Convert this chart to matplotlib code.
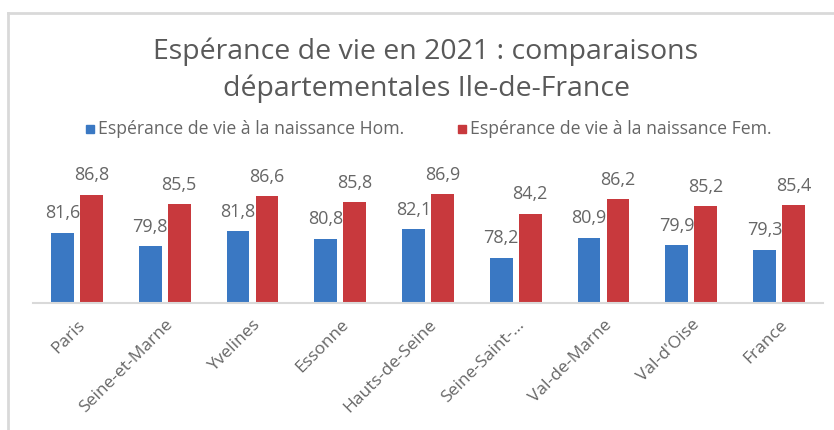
import matplotlib
matplotlib.use("Agg")
import matplotlib.pyplot as plt
import numpy as np
from matplotlib.lines import Line2D

categories = ["Paris", "Seine-et-Marne", "Yvelines", "Essonne", "Hauts-de-Seine",
              "Seine-Saint-…", "Val-de-Marne", "Val-d'Oise", "France"]
hommes = [81.6, 79.8, 81.8, 80.8, 82.1, 78.2, 80.9, 79.9, 79.3]
femmes = [86.8, 85.5, 86.6, 85.8, 86.9, 84.2, 86.2, 85.2, 85.4]
series_names = ["Espérance de vie à la naissance Hom.", "Espérance de vie à la naissance Fem."]
title = "Espérance de vie en 2021 : comparaisons\ndépartementales Ile-de-France"

plt.rcParams['font.family'] = ['Open Sans', 'DejaVu Sans']
W, H = 834, 430
fig = plt.figure(figsize=(W / 100, H / 100), dpi=100)
fig.patch.set_facecolor("white")

# outer chart frame (top and left edges visible)
fig.add_artist(Line2D([8 / W, 1], [1 - 13 / H, 1 - 13 / H], color="#d9d9d9", lw=2, transform=fig.transFigure))
fig.add_artist(Line2D([8 / W, 8 / W], [0, 1 - 13 / H], color="#d9d9d9", lw=2, transform=fig.transFigure))

ax = fig.add_axes([33 / W, 127 / H, 790 / W, 117 / H])
x = np.arange(len(categories))
bw = 0.26
off = 0.165
blue = "#3a78c3"
red = "#c8393d"
ax.bar(x - off, hommes, bw, color=blue, zorder=2)
ax.bar(x + off, femmes, bw, color=red, zorder=2)
ax.set_ylim(72, 88)
ax.set_xlim(-0.5, len(categories) - 0.5)

txtc = "#666666"
for xi, v in zip(x, hommes):
    ax.annotate(f"{v:.1f}".replace(".", ","), (xi - off, v), xytext=(0, 14), textcoords="offset points",
                ha="center", va="center", fontsize=13, color=txtc, zorder=1, annotation_clip=False)
for xi, v in zip(x, femmes):
    ax.annotate(f"{v:.1f}".replace(".", ","), (xi + off, v), xytext=(0, 14), textcoords="offset points",
                ha="center", va="center", fontsize=13, color=txtc, zorder=3, annotation_clip=False)

for s in ["top", "right", "left"]:
    ax.spines[s].set_visible(False)
ax.spines["bottom"].set_color("#d9d9d9")
ax.spines["bottom"].set_linewidth(1.5)
ax.set_yticks([])
ax.set_xticks(x)
ax.set_xticklabels(categories, rotation=45, ha="right", rotation_mode="anchor",
                   fontsize=12.5, color=txtc)
ax.tick_params(axis="x", length=0, pad=10)

fig.text(426 / W, 1 - 70 / H, title, ha="center", va="center", fontsize=20.5,
         color="#595959", linespacing=1.4)

# legend
ly = 1 - 129 / H
fig.patches.append(plt.Rectangle((86 / W, ly - 4 / H), 8 / W, 8 / H, color=blue, transform=fig.transFigure))
fig.text(98 / W, ly, series_names[0], ha="left", va="center", fontsize=12.7, color=txtc)
fig.patches.append(plt.Rectangle((458 / W, ly - 4 / H), 8 / W, 8 / H, color=red, transform=fig.transFigure))
fig.text(470 / W, ly, series_names[1], ha="left", va="center", fontsize=12.7, color=txtc)

fig.savefig("out.png", dpi=100, facecolor="white")
